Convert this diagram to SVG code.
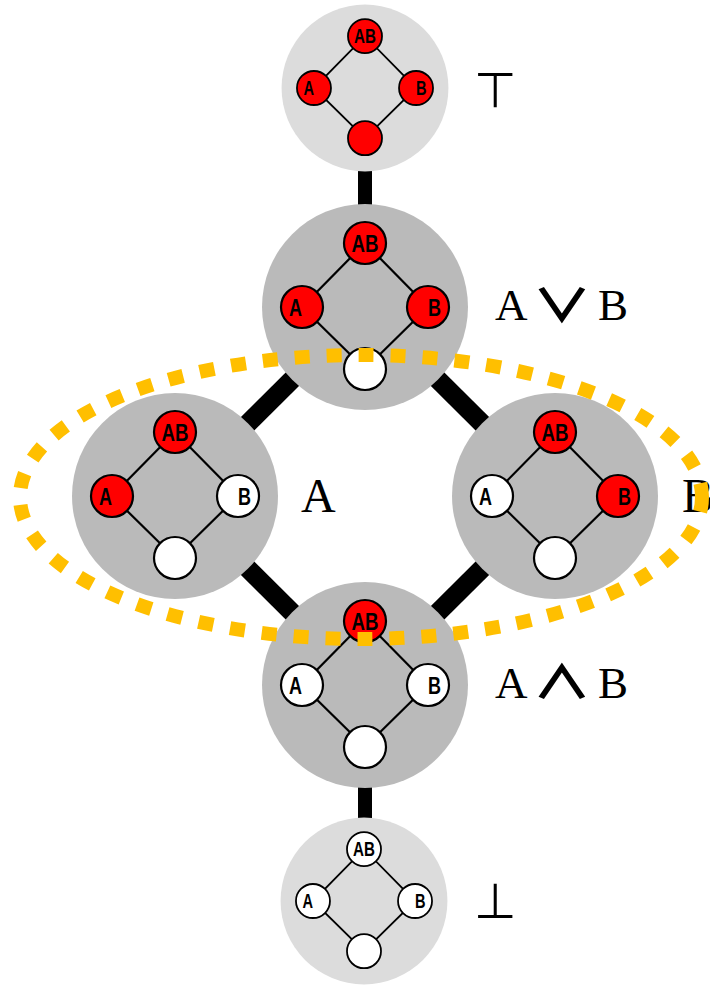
<svg xmlns="http://www.w3.org/2000/svg" width="710" height="986" viewBox="0 0 710 986">
  <style>
    .bg { fill: #ffffff; }
    .big-light { fill: #dcdcdc; }
    .big-dark { fill: #bababa; }
    .edge { stroke: #000; stroke-width: 2.2; fill: none; }
    .on { fill: #ff0000; stroke: #000; stroke-width: 2.2; }
    .off { fill: #ffffff; stroke: #000; stroke-width: 2.2; }
    .lbl { font-family: "Liberation Sans", Arial, sans-serif; font-weight: bold; font-size: 24px; fill: #000; text-anchor: middle; }
    .name { font-family: "Liberation Serif", "Times New Roman", serif; fill: #000; }
    .sym { font-family: "DejaVu Sans", sans-serif; fill: #000; }
    .op { font-family: "Noto Sans CJK JP", "DejaVu Sans", sans-serif; font-weight: bold; font-size: 46px; fill: #000; text-anchor: middle; }
    .link-v { stroke: #000; stroke-width: 14; }
    .link-d { stroke: #000; stroke-width: 19; }
    .region { fill: none; stroke: #ffbf00; stroke-width: 14; stroke-dasharray: 15 17; }
  </style>

  <rect class="bg" x="0" y="0" width="710" height="986"/>

  <!-- connectors between lattice elements -->
  <g id="connectors">
    <line class="link-v" x1="365" y1="160" x2="365" y2="215"/>
    <line class="link-d" x1="365" y1="307" x2="175" y2="496"/>
    <line class="link-d" x1="365" y1="307" x2="555" y2="496"/>
    <line class="link-d" x1="175" y1="496" x2="365" y2="685"/>
    <line class="link-d" x1="555" y1="496" x2="365" y2="685"/>
    <line class="link-v" x1="365" y1="770" x2="365" y2="828"/>
  </g>

  <!-- top: everything true -->
  <g id="node-top" transform="translate(365,88) scale(0.81)">
    <circle class="big-light" r="103"/>
    <path class="edge" d="M0,-64 L-63,0 L0,62 L63,0 Z"/>
    <circle class="on" cx="0" cy="-64" r="21"/>
    <circle class="on" cx="-63" cy="0" r="21"/>
    <circle class="on" cx="63" cy="0" r="21"/>
    <circle class="on" cx="0" cy="62" r="21"/>
    <text class="lbl" x="0" y="-55" textLength="27" lengthAdjust="spacingAndGlyphs">AB</text>
    <text class="lbl" x="-69.5" y="8.5" textLength="13" lengthAdjust="spacingAndGlyphs">A</text>
    <text class="lbl" x="69.5" y="8.5" textLength="13" lengthAdjust="spacingAndGlyphs">B</text>
  </g>
  <text class="sym" x="474" y="107" font-size="49">⊤</text>

  <!-- A or B -->
  <g id="node-or" transform="translate(365,307)">
    <circle class="big-dark" r="103"/>
    <path class="edge" d="M0,-64 L-63,0 L0,62 L63,0 Z"/>
    <circle class="on" cx="0" cy="-64" r="21"/>
    <circle class="on" cx="-63" cy="0" r="21"/>
    <circle class="on" cx="63" cy="0" r="21"/>
    <circle class="off" cx="0" cy="62" r="21"/>
    <text class="lbl" x="0" y="-55" textLength="27" lengthAdjust="spacingAndGlyphs">AB</text>
    <text class="lbl" x="-69.5" y="8.5" textLength="13" lengthAdjust="spacingAndGlyphs">A</text>
    <text class="lbl" x="69.5" y="8.5" textLength="13" lengthAdjust="spacingAndGlyphs">B</text>
  </g>
  <text class="name" x="495" y="320" font-size="45">A</text>
  <text class="op" transform="translate(562,322) scale(1.3,1)">∨</text>
  <text class="name" x="598" y="320" font-size="45">B</text>

  <!-- A -->
  <g id="node-a" transform="translate(175,496)">
    <circle class="big-dark" r="103"/>
    <path class="edge" d="M0,-64 L-63,0 L0,62 L63,0 Z"/>
    <circle class="on" cx="0" cy="-64" r="21"/>
    <circle class="on" cx="-63" cy="0" r="21"/>
    <circle class="off" cx="63" cy="0" r="21"/>
    <circle class="off" cx="0" cy="62" r="21"/>
    <text class="lbl" x="0" y="-55" textLength="27" lengthAdjust="spacingAndGlyphs">AB</text>
    <text class="lbl" x="-69.5" y="8.5" textLength="13" lengthAdjust="spacingAndGlyphs">A</text>
    <text class="lbl" x="69.5" y="8.5" textLength="13" lengthAdjust="spacingAndGlyphs">B</text>
  </g>
  <text class="name" x="301" y="512" font-size="48">A</text>

  <!-- B -->
  <g id="node-b" transform="translate(555,496)">
    <circle class="big-dark" r="103"/>
    <path class="edge" d="M0,-64 L-63,0 L0,62 L63,0 Z"/>
    <circle class="on" cx="0" cy="-64" r="21"/>
    <circle class="off" cx="-63" cy="0" r="21"/>
    <circle class="on" cx="63" cy="0" r="21"/>
    <circle class="off" cx="0" cy="62" r="21"/>
    <text class="lbl" x="0" y="-55" textLength="27" lengthAdjust="spacingAndGlyphs">AB</text>
    <text class="lbl" x="-69.5" y="8.5" textLength="13" lengthAdjust="spacingAndGlyphs">A</text>
    <text class="lbl" x="69.5" y="8.5" textLength="13" lengthAdjust="spacingAndGlyphs">B</text>
  </g>
  <text class="name" x="682" y="512" font-size="48">B</text>

  <!-- A and B -->
  <g id="node-and" transform="translate(365,685)">
    <circle class="big-dark" r="103"/>
    <path class="edge" d="M0,-64 L-63,0 L0,62 L63,0 Z"/>
    <circle class="on" cx="0" cy="-64" r="21"/>
    <circle class="off" cx="-63" cy="0" r="21"/>
    <circle class="off" cx="63" cy="0" r="21"/>
    <circle class="off" cx="0" cy="62" r="21"/>
    <text class="lbl" x="0" y="-55" textLength="27" lengthAdjust="spacingAndGlyphs">AB</text>
    <text class="lbl" x="-69.5" y="8.5" textLength="13" lengthAdjust="spacingAndGlyphs">A</text>
    <text class="lbl" x="69.5" y="8.5" textLength="13" lengthAdjust="spacingAndGlyphs">B</text>
  </g>
  <text class="name" x="495" y="698" font-size="45">A</text>
  <text class="op" transform="translate(562,698) scale(1.3,1)">∧</text>
  <text class="name" x="598" y="698" font-size="45">B</text>

  <!-- bottom: nothing true -->
  <g id="node-bottom" transform="translate(364,901) scale(0.81)">
    <circle class="big-light" r="103"/>
    <path class="edge" d="M0,-64 L-63,0 L0,62 L63,0 Z"/>
    <circle class="off" cx="0" cy="-64" r="21"/>
    <circle class="off" cx="-63" cy="0" r="21"/>
    <circle class="off" cx="63" cy="0" r="21"/>
    <circle class="off" cx="0" cy="62" r="21"/>
    <text class="lbl" x="0" y="-55" textLength="27" lengthAdjust="spacingAndGlyphs">AB</text>
    <text class="lbl" x="-69.5" y="8.5" textLength="13" lengthAdjust="spacingAndGlyphs">A</text>
    <text class="lbl" x="69.5" y="8.5" textLength="13" lengthAdjust="spacingAndGlyphs">B</text>
  </g>
  <text class="sym" x="474" y="918" font-size="49">⊥</text>

  <!-- dotted outline grouping A and B -->
  <g id="region">
    <ellipse class="region" cx="361" cy="497" rx="341" ry="142"/>
  </g>
</svg>
